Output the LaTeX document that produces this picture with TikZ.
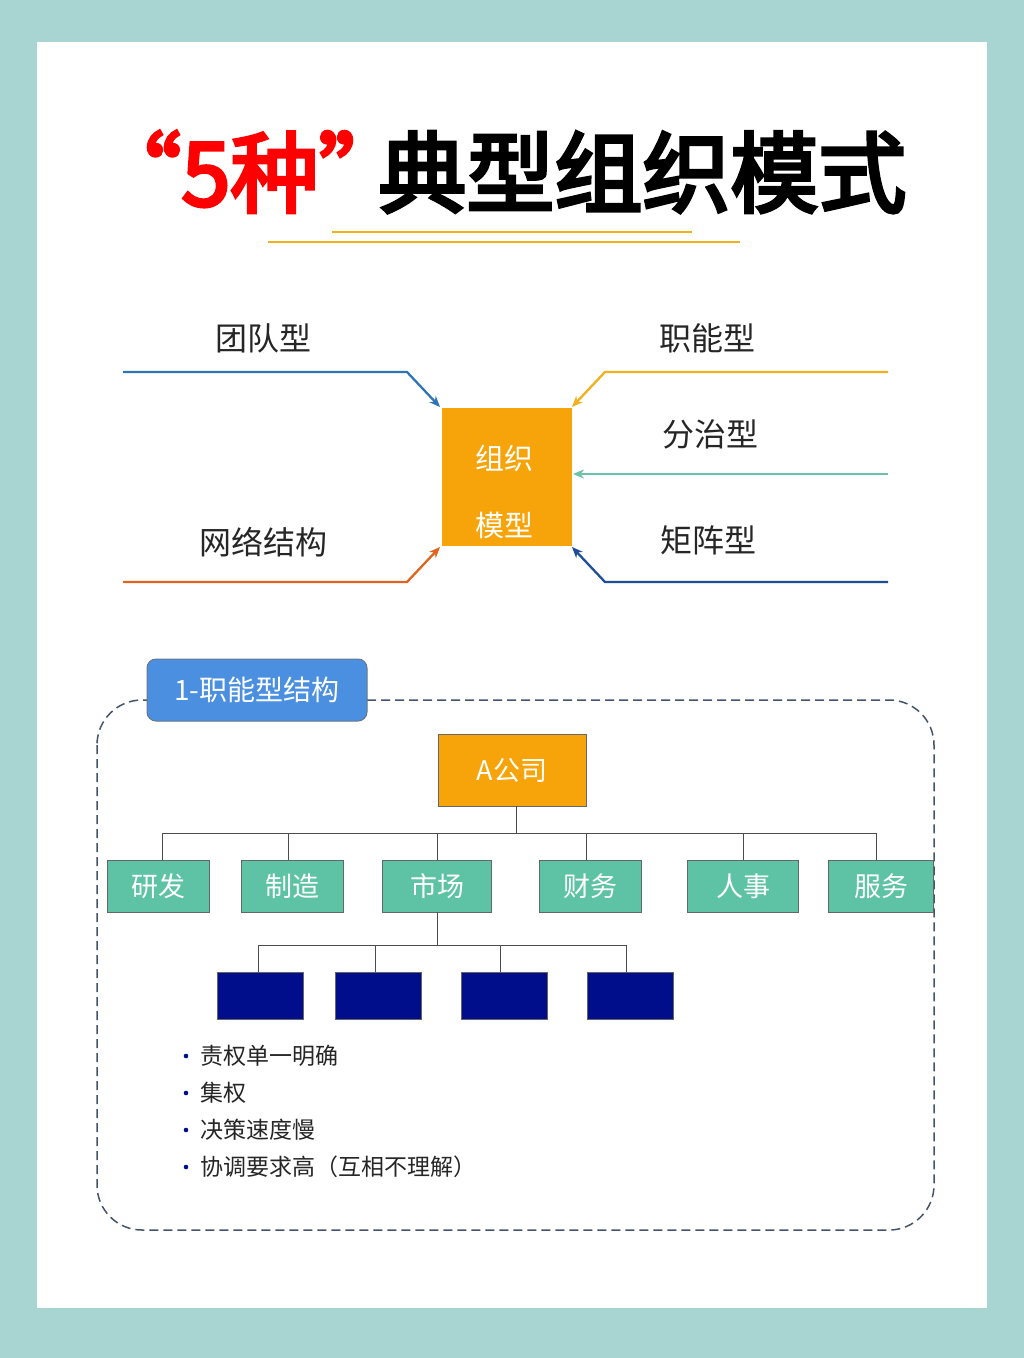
\documentclass[tikz,border=0pt]{standalone}
\usepackage{fontspec}
\newfontfamily\cjk{Noto Sans CJK SC}
\newfontfamily\cjkb{Noto Sans CJK SC}[FakeBold=4]
\definecolor{bg}{HTML}{A8D5D1}
\definecolor{org}{HTML}{F7A30A}
\definecolor{lblue}{HTML}{2E75B6}
\definecolor{lred}{HTML}{E0641E}
\definecolor{lyel}{HTML}{F2B01E}
\definecolor{lgrn}{HTML}{6CC3AA}
\definecolor{lnavy}{HTML}{1F4E99}
\definecolor{framec}{HTML}{44546A}
\definecolor{tag}{HTML}{4A8FE0}
\definecolor{dept}{HTML}{5EC3A4}
\definecolor{sub}{HTML}{000E8C}
\begin{document}
\begin{tikzpicture}[x=1pt,y=-1pt,
  lab/.style={font=\cjk\fontsize{32}{36}\selectfont,text=black!85},
  arr/.style={-{Stealth[length=11pt,width=9pt]}},
  deptbox/.style={draw=black!60,fill=dept,minimum width=102pt,minimum height=52pt,text=white,font=\cjk\fontsize{27}{30}\selectfont,inner sep=0},
  subbox/.style={draw=black!60,fill=sub,minimum width=86pt,minimum height=47pt,inner sep=0},
  tl/.style={draw=black!70,line width=0.8pt},
  bl/.style={font=\cjk\fontsize{23}{26}\selectfont,text=black!85,anchor=west}]
\usetikzlibrary{arrows.meta}
\fill[bg] (0,0) rectangle (1024,1358);
\fill[white] (37,42) rectangle (987,1308);
\node (t) at (500,172) {\cjkb\fontsize{88}{96}\selectfont\textcolor{red}{“5种”}\kern-28pt 典型组织模式};
\draw[lyel,line width=2.5pt] (332,232) -- (692,232);
\draw[lyel,line width=2.5pt] (268,242) -- (740,242);
% center
\node[fill=org,minimum width=130pt,minimum height=138pt,inner sep=0] (c) at (507,477) {};
\node[text=white,font=\cjk\fontsize{29}{32}\selectfont] (c1) at (504,458) {组织};
\node[text=white,font=\cjk\fontsize{29}{32}\selectfont] (c2) at (504,525) {模型};
\coordinate (a1) at (123,372); \coordinate (b1) at (407,372); \coordinate (e1) at (440,407);
\draw[arr,lblue,line width=2.3pt] (a1) -- (b1) -- (e1);
\coordinate (a2) at (123,582); \coordinate (b2) at (407,582); \coordinate (e2) at (440,547);
\draw[arr,lred,line width=2.3pt] (a2) -- (b2) -- (e2);
\coordinate (a3) at (888,372); \coordinate (b3) at (605,372); \coordinate (e3) at (572,407);
\draw[arr,lyel,line width=2.3pt] (a3) -- (b3) -- (e3);
\coordinate (a4) at (888,474); \coordinate (e4) at (573,474);
\draw[arr,lgrn,line width=2.3pt] (a4) -- (e4);
\coordinate (a5) at (888,582); \coordinate (b5) at (605,582); \coordinate (e5) at (572,547);
\draw[arr,lnavy,line width=2.3pt] (a5) -- (b5) -- (e5);
\node[lab] (l1) at (263,338) {团队型};
\node[lab] (l2) at (263,542) {网络结构};
\node[lab] (l3) at (707,338) {职能型};
\node[lab] (l4) at (710,434) {分治型};
\node[lab] (l5) at (708,540) {矩阵型};
% dashed frame
\draw[framec,line width=1.5pt,dash pattern=on 9pt off 5pt,rounded corners=45pt] (97,700) rectangle (934,1230);
\node[draw=framec!80,line width=1pt,fill=tag,rounded corners=9pt,minimum width=220pt,minimum height=62pt,text=white,font=\cjk\fontsize{28}{30}\selectfont] (tag) at (257,690) {1-职能型结构};
\node[draw=black!60,fill=org,minimum width=148pt,minimum height=72pt,text=white,font=\cjk\fontsize{27}{30}\selectfont] (A) at (512,770) {A公司};
\node[deptbox] (d1) at (158,886) {研发};
\node[deptbox] (d2) at (292,886) {制造};
\node[deptbox,minimum width=109pt] (d3) at (437,886) {市场};
\node[deptbox] (d4) at (590,886) {财务};
\node[deptbox,minimum width=111pt] (d5) at (743,886) {人事};
\node[deptbox,minimum width=105pt] (d6) at (881,886) {服务};
\coordinate (h) at (516,833);
\draw[tl] (516,806) -- (h);
\draw[tl] (162,833) -- (876,833);
\foreach \x/\n in {162/d1,288/d2,437/d3,586/d4,743/d5,876/d6} \draw[tl] (\x,833) -- (\x,860);
\node[subbox] (s1) at (260,996) {};
\node[subbox] (s2) at (378,996) {};
\node[subbox] (s3) at (504,996) {};
\node[subbox] (s4) at (630,996) {};
\draw[tl] (d3.south) -- (437,945);
\draw[tl] (258,945) -- (626,945);
\foreach \x in {258,375,500,626} \draw[tl] (\x,945) -- (\x,972);
\foreach \y/\t in {1056/责权单一明确,1093/集权,1130/决策速度慢,1167/协调要求高（互相不理解）}{
  \fill[sub] (186,\y) circle (2.3pt);
  \node[bl] at (197,\y) {\t};}
\end{tikzpicture}
\end{document}
